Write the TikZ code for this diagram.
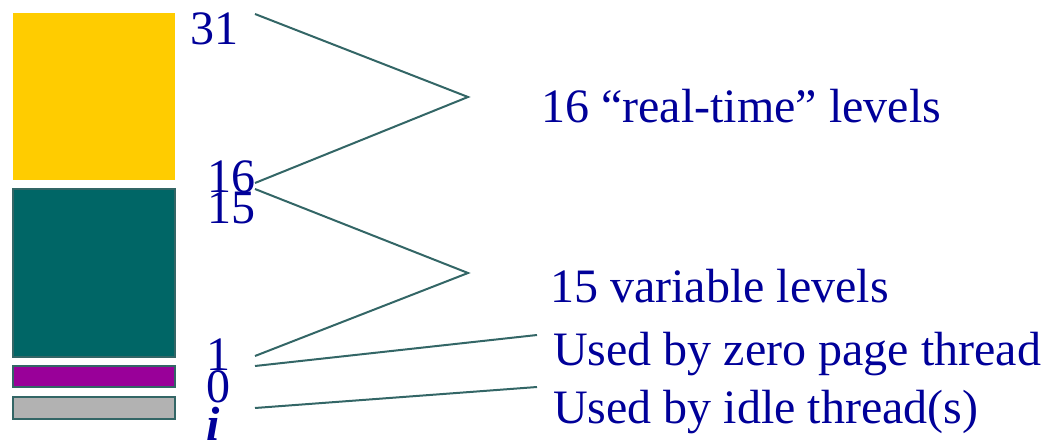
\documentclass[tikz,border=0pt]{standalone}
\usepackage{fontspec}
\setmainfont{Liberation Serif}
\definecolor{gold}{RGB}{255,204,0}
\definecolor{deepteal}{RGB}{0,102,102}
\definecolor{plum}{RGB}{153,0,153}
\definecolor{idlegray}{RGB}{178,178,178}
\definecolor{slate}{RGB}{51,102,102}
\definecolor{navy}{RGB}{0,0,153}
\begin{document}
\begin{tikzpicture}[x=0.75pt,y=-0.75pt,
  lbl/.style={text=navy,font=\fontsize{36}{40}\selectfont,inner sep=0pt,anchor=base west},
  link/.style={draw=slate,line width=1.5pt},
  bar/.style={draw=slate,line width=1.5pt}]
\useasboundingbox (0,0) rectangle (1045,441);
% Priority bands
\fill[gold] (13,13) rectangle (175,180);
\draw[bar,fill=deepteal] (13,189) rectangle (175,357);
\draw[bar,fill=plum] (13,366) rectangle (175,387);
\draw[bar,fill=idlegray] (13,397) rectangle (175,419);
% Level numbers
\node[lbl] (n31) at (190,45) {31};
\node[lbl] (n16) at (207,193) {16};
\node[lbl] (n15) at (207,224) {15};
\node[lbl] (n1) at (206,370) {1};
\node[lbl] (n0) at (206,402) {0};
\node[lbl,font=\fontsize{36}{40}\selectfont\bfseries\itshape] (ni) at (206,440) {i};
% Descriptions
\node[lbl] (realtime) at (541,123) {16 “real-time” levels};
\node[lbl] (variable) at (550,303) {15 variable levels};
\node[lbl] (zeropage) at (553,365) {Used by zero page thread};
\node[lbl] (idle) at (553,423) {Used by idle thread(s)};
% Braces
\coordinate (top31) at (255,14);
\coordinate (bot16) at (255,183);
\coordinate (top15) at (255,189);
\coordinate (bot1) at (255,356);
\coordinate (lvl0) at (255,366);
\coordinate (lvli) at (255,408);
\coordinate (rtjoin) at (468,97);
\coordinate (varjoin) at (468,273);
\coordinate (zpend) at (537,335);
\coordinate (idend) at (537,387);
\draw[link] (top31) -- (rtjoin) -- (bot16);
\draw[link] (top15) -- (varjoin) -- (bot1);
\draw[link] (lvl0) -- (zpend);
\draw[link] (lvli) -- (idend);
\end{tikzpicture}
\end{document}
